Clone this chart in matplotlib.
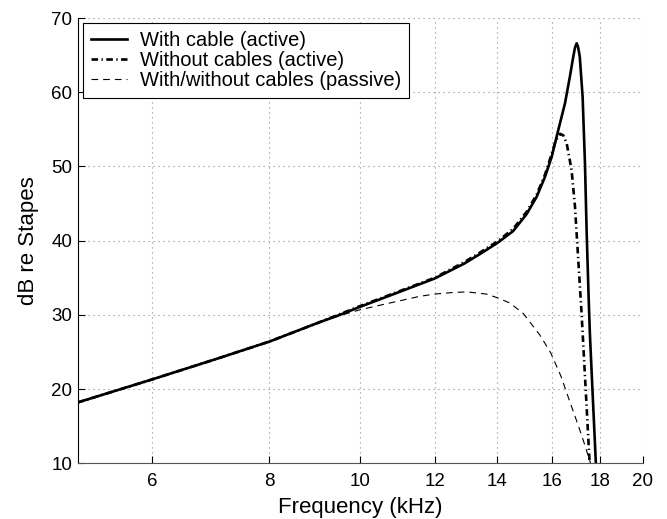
import matplotlib
matplotlib.use('Agg')
import matplotlib.pyplot as plt
from matplotlib.ticker import NullLocator, FixedFormatter

#--------------------------------------------------------------
# Data (frequency in kHz, level in dB re stapes)

# With cable (active)
freq_cable = [5.0, 6.0, 7.0, 8.0, 9.0, 9.51, 10.0, 10.75, 12.0, 12.9, 13.41, 14.0, 14.55,
              15.04, 15.41, 15.73, 15.99, 16.25, 16.52, 16.72, 16.86, 16.93, 17.0, 17.06,
              17.13, 17.25, 17.35, 17.42, 17.5, 17.56, 17.67, 17.82, 17.9]
db_cable   = [18.2, 21.3, 24.0, 26.4, 28.9, 30.0, 31.1, 32.6, 34.9, 36.9, 38.2, 39.7, 41.3,
              43.6, 45.9, 48.6, 51.3, 54.9, 58.5, 62.1, 64.8, 66.0, 66.6, 66.1,
              64.8, 59.4, 50.4, 41.4, 33.0, 27.5, 20.0, 10.0, 5.0]

# Without cables (active)
freq_nocable = [5.0, 6.0, 7.0, 8.0, 9.0, 9.51, 10.0, 10.75, 12.0, 12.9, 13.41, 14.0, 14.55,
                15.04, 15.41, 15.73, 16.0, 16.15, 16.32, 16.45, 16.59, 16.79, 16.93, 17.06,
                17.21, 17.38, 17.55, 17.6]
db_nocable   = [18.2, 21.3, 24.0, 26.4, 28.9, 30.1, 31.2, 32.7, 35.0, 37.1, 38.4, 39.9, 41.6,
                43.9, 46.2, 48.9, 51.8, 53.5, 54.4, 54.2, 53.1, 49.5, 44.6, 37.8,
                30.0, 20.0, 10.0, 7.0]

# With/without cables (passive)
freq_passive = [5.0, 6.0, 7.0, 8.0, 9.0, 9.51, 10.0, 10.75, 11.57, 12.0, 12.5, 12.98, 13.63,
                14.0, 14.43, 14.91, 15.53, 15.95, 16.35, 16.75, 17.1, 17.35, 17.59, 17.7]
db_passive   = [18.2, 21.3, 24.0, 26.4, 28.9, 29.9, 30.7, 31.6, 32.5, 32.8, 33.0, 33.1, 32.8,
                32.3, 31.6, 30.2, 27.3, 24.9, 21.8, 18.0, 14.8, 12.4, 10.0, 8.8]

labels = ['With cable (active)', 'Without cables (active)', 'With/without cables (passive)']

xticks = [6, 8, 10, 12, 14, 16, 18, 20]
yticks = [10, 20, 30, 40, 50, 60, 70]

#--------------------------------------------------------------
plt.rcParams['font.family'] = ['Liberation Sans', 'DejaVu Sans']

fig = plt.figure(figsize=(6.67, 5.19), dpi=100)
ax = fig.add_axes([0.1165, 0.1073, 0.8474, 0.858])

ax.plot(freq_cable, db_cable, color='black', lw=1.9, ls='-', label=labels[0])
ax.plot(freq_nocable, db_nocable, color='black', lw=1.9, ls=(0, (2.5, 1.3, 0.5, 1.3)),
        label=labels[1])
ax.plot(freq_passive, db_passive, color='black', lw=0.8, ls=(0, (6, 4.5)), label=labels[2])

ax.set_xscale('log')
ax.set_xlim(5, 20)
ax.set_ylim(10, 70)
ax.set_xticks(xticks)
ax.xaxis.set_minor_locator(NullLocator())
ax.xaxis.set_major_formatter(FixedFormatter([str(v) for v in xticks]))
ax.set_yticks(yticks)

ax.grid(True, color='#8c8c8c', lw=0.8, ls=(0, (1, 3.5)))
ax.set_axisbelow(True)

for side in ['top', 'right']:
    ax.spines[side].set_visible(False)
ax.spines['left'].set_color('black')
ax.spines['bottom'].set_color('#555555')
ax.tick_params(direction='in', length=5, width=0.8, labelsize=13.5)
ax.tick_params(axis='x', pad=7)
ax.tick_params(axis='y', pad=4)

ax.set_xlabel('Frequency (kHz)', fontsize=16, labelpad=5)
ax.set_ylabel('dB re Stapes', fontsize=16, labelpad=9)

leg = ax.legend(loc='upper left', bbox_to_anchor=(0.01, 0.989), borderaxespad=0,
                fontsize=14.5, handlelength=1.8, handletextpad=0.65, labelspacing=0.06,
                borderpad=0.38, fancybox=False, framealpha=1, edgecolor='black')
leg.get_frame().set_linewidth(0.8)

plt.savefig('out.png', dpi=100)
